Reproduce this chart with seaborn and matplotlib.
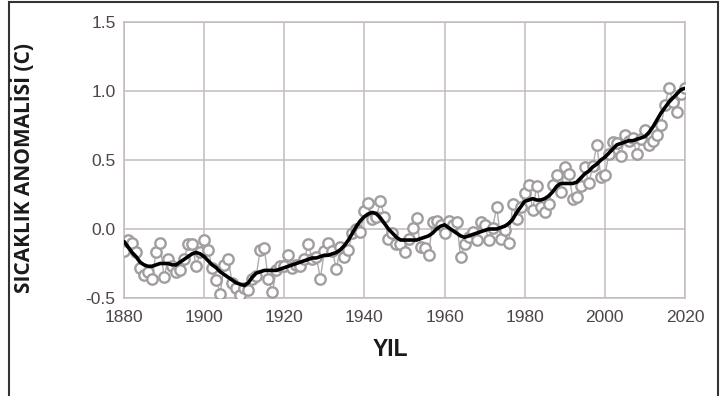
import numpy as np
import pandas as pd
import matplotlib
matplotlib.use("Agg")
import matplotlib.pyplot as plt
import seaborn as sns
from matplotlib.patches import Rectangle

years = list(range(1880, 2021))
annual = [-0.16, -0.08, -0.10, -0.17, -0.28, -0.33, -0.31, -0.36, -0.17, -0.10,
          -0.35, -0.22, -0.27, -0.31, -0.30, -0.22, -0.11, -0.11, -0.27, -0.17,
          -0.08, -0.15, -0.28, -0.37, -0.47, -0.26, -0.22, -0.39, -0.43, -0.48,
          -0.43, -0.44, -0.36, -0.34, -0.15, -0.14, -0.36, -0.46, -0.30, -0.27,
          -0.27, -0.19, -0.28, -0.26, -0.27, -0.22, -0.11, -0.22, -0.20, -0.36,
          -0.16, -0.10, -0.16, -0.29, -0.13, -0.20, -0.15, -0.03, -0.00, -0.02,
          0.13, 0.19, 0.07, 0.09, 0.20, 0.09, -0.07, -0.03, -0.11, -0.11,
          -0.17, -0.07, 0.01, 0.08, -0.13, -0.14, -0.19, 0.05, 0.06, 0.03,
          -0.03, 0.06, 0.03, 0.05, -0.20, -0.11, -0.06, -0.02, -0.08, 0.05,
          0.03, -0.08, 0.01, 0.16, -0.07, -0.01, -0.10, 0.18, 0.07, 0.16,
          0.26, 0.32, 0.14, 0.31, 0.16, 0.12, 0.18, 0.32, 0.39, 0.27,
          0.45, 0.40, 0.22, 0.23, 0.31, 0.45, 0.33, 0.46, 0.61, 0.38,
          0.39, 0.54, 0.63, 0.62, 0.53, 0.68, 0.64, 0.66, 0.54, 0.65,
          0.72, 0.61, 0.64, 0.68, 0.75, 0.90, 1.02, 0.92, 0.85, 0.98,
          1.02]
smooth = [-0.09, -0.13, -0.17, -0.20, -0.24, -0.26, -0.27, -0.27, -0.26, -0.25,
          -0.25, -0.25, -0.26, -0.26, -0.24, -0.22, -0.20, -0.18, -0.17, -0.18,
          -0.20, -0.23, -0.26, -0.28, -0.31, -0.33, -0.35, -0.37, -0.39, -0.40,
          -0.41, -0.39, -0.35, -0.32, -0.31, -0.30, -0.30, -0.30, -0.30, -0.29,
          -0.28, -0.27, -0.26, -0.25, -0.24, -0.23, -0.22, -0.21, -0.21, -0.20,
          -0.19, -0.19, -0.18, -0.17, -0.15, -0.12, -0.08, -0.03, 0.02, 0.06,
          0.09, 0.11, 0.12, 0.11, 0.08, 0.04, 0.00, -0.03, -0.06, -0.08,
          -0.08, -0.08, -0.08, -0.08, -0.07, -0.06, -0.05, -0.03, 0.00, 0.02,
          0.03, 0.01, -0.01, -0.03, -0.05, -0.06, -0.05, -0.04, -0.03, -0.02,
          -0.01, 0.00, 0.00, 0.00, 0.01, 0.02, 0.04, 0.07, 0.12, 0.16,
          0.20, 0.21, 0.22, 0.21, 0.21, 0.22, 0.24, 0.27, 0.31, 0.33,
          0.33, 0.33, 0.33, 0.34, 0.37, 0.40, 0.42, 0.45, 0.47, 0.50,
          0.52, 0.55, 0.58, 0.61, 0.62, 0.63, 0.64, 0.64, 0.65, 0.66,
          0.67, 0.70, 0.74, 0.79, 0.84, 0.88, 0.92, 0.95, 0.98, 1.01,
          1.02]
x_ticks = [1880, 1900, 1920, 1940, 1960, 1980, 2000, 2020]
y_ticks = [-0.5, 0.0, 0.5, 1.0, 1.5]
x_label = "YIL"
y_label = "SICAKLIK ANOMALİSİ (C)"

df = pd.DataFrame({"year": years, "annual": annual, "smooth": smooth})

sns.set_theme(style="white")
plt.rcParams["font.family"] = ["Liberation Sans", "DejaVu Sans"]

W, H = 721, 396
fig = plt.figure(figsize=(W / 100, H / 100), dpi=100)
ax = fig.add_axes([124 / W, 1 - 298 / H, (685 - 124) / W, (298 - 22) / H])

grid_c = "#c4bcbc"
sns.lineplot(data=df, x="year", y="annual", ax=ax, color="#b0acac", lw=1.0,
             marker="o", markersize=7.5, markerfacecolor="white",
             markeredgecolor="#a29e9e", markeredgewidth=1.7, zorder=3)
sns.lineplot(data=df, x="year", y="smooth", ax=ax, color="black", lw=2.6, zorder=4)

ax.set_xlim(1880, 2020)
ax.set_ylim(-0.5, 1.5)
ax.set_xticks(x_ticks)
ax.set_yticks(y_ticks)
ax.set_xticklabels([str(t) for t in x_ticks])
ax.set_yticklabels([f"{t:.1f}" for t in y_ticks])
ax.grid(True, color=grid_c, lw=1.1)
ax.set_axisbelow(True)
for s in ax.spines.values():
    s.set_visible(True)
    s.set_color(grid_c)
    s.set_linewidth(1.1)
ax.tick_params(axis="both", length=0, labelsize=12.5, labelcolor="#4e4646")
ax.tick_params(axis="x", pad=9)
ax.tick_params(axis="y", pad=6)
ax.set_xlabel("")
ax.set_ylabel("")

fig.text(390 / W, 1 - 349 / H, x_label, ha="center", va="center",
         fontsize=16.5, fontweight="bold", color="#1a1a1a")
fig.text(23 / W, 1 - 168 / H, y_label, ha="center", va="center", rotation=90,
         fontsize=15, fontweight="bold", color="#1a1a1a", family="Open Sans")

fig.add_artist(Rectangle((8.5 / W, -0.05), (717.5 - 8.5) / W, 1.05 - 1.5 / H,
                         transform=fig.transFigure, fill=False,
                         edgecolor="#333333", lw=1.5))

fig.savefig("out.png", dpi=100)
